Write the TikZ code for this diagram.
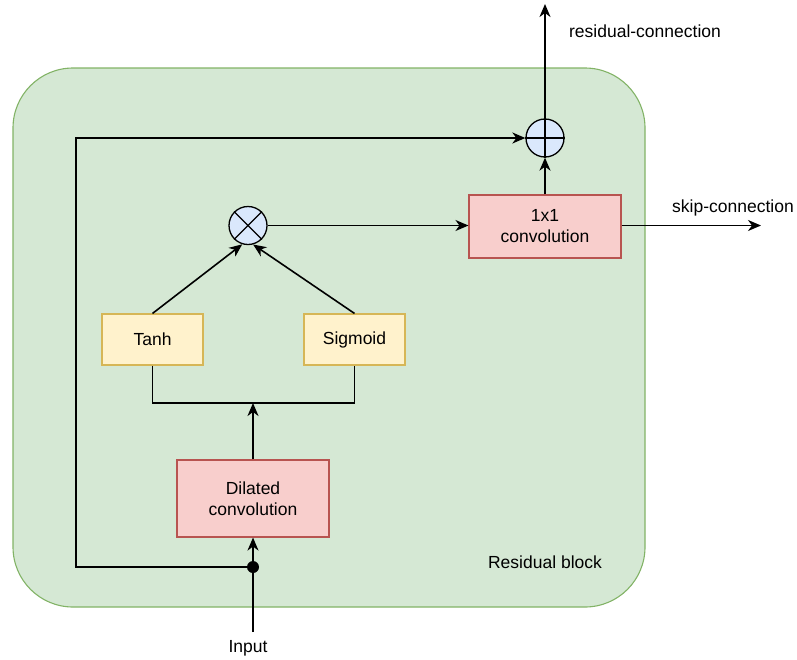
\documentclass[tikz,border=0pt]{standalone}
\usepackage{fontspec}
\setmainfont{Liberation Sans}
\usetikzlibrary{arrows.meta}
\definecolor{blockfill}{HTML}{D5E8D4}
\definecolor{blockline}{HTML}{82B366}
\definecolor{redfill}{HTML}{F8CECC}
\definecolor{redline}{HTML}{B85450}
\definecolor{yelfill}{HTML}{FFF2CC}
\definecolor{yelline}{HTML}{D6B656}
\definecolor{bluefill}{HTML}{DAE8FC}
\tikzset{
  txt/.style={font=\fontsize{17.5}{21}\selectfont},
  conv/.style={txt, draw=redline, fill=redfill, line width=1.1pt, minimum width=152pt, inner sep=0pt, align=center},
  gate/.style={txt, draw=yelline, fill=yelfill, line width=1.1pt, minimum width=101pt, minimum height=51pt, inner sep=0pt},
  op/.style={circle, draw=black, fill=bluefill, line width=1.3pt, minimum size=38pt, inner sep=0pt},
  wire/.style={line width=1.6pt, black},
  arr/.style={wire, -{Stealth[length=13pt, width=11pt, inset=4pt]}},
  lbl/.style={txt, inner sep=0pt},
}
\begin{document}
\begin{tikzpicture}[x=1pt, y=-1pt]
\useasboundingbox (0,0) rectangle (797,659);

% residual block background
\draw[fill=blockfill, draw=blockline, line width=1.1pt, rounded corners=60pt] (13,68) rectangle (645,607);
\node[lbl] (blocklabel) at (545,562) {Residual block};

% nodes
\node[conv, minimum height=77pt] (dil) at (253,498.5) {Dilated\\convolution};
\node[gate] (tanh) at (152.5,339.5) {Tanh};
\node[gate] (sig) at (354.5,339.5) {Sigmoid};
\node[conv, minimum height=63pt] (pw) at (545,226.5) {1x1\\convolution};
\node[op] (mul) at (248,225.5) {};
\node[op] (add) at (545,138) {};
\draw[wire, line width=1.3pt] (mul.north west) -- (mul.south east) (mul.north east) -- (mul.south west);
\draw[wire, line width=1.3pt] (add.north) -- (add.south) (add.west) -- (add.east);

\node[circle, fill=black, minimum size=12pt, inner sep=0pt] (split) at (253,567) {};
\coordinate (inbot) at (253,632);
\coordinate (join) at (253,403);
\coordinate (lowleft) at (76,567);
\coordinate (upleft) at (76,138);
\coordinate (restop) at (545,4);
\coordinate (skipend) at (761,225.5);

\node[lbl] (inputlabel) at (248,648) {Input};
\node[lbl] (reslabel) at (645,31) {residual-connection};
\node[lbl] (skiplabel) at (733,208) {skip-connection};

% connectors
\draw[arr] (inbot) -- (dil.south);
\draw[arr] (dil.north) -- (join);
\draw[wire] (tanh.south) |- (join) -| (sig.south);
\draw[arr] (tanh.north) -- (mul.253);
\draw[arr] (sig.north) -- (mul.285);
\draw[arr] (mul.east) -- (mul.east -| pw.west);
\draw[arr] (pw.north) -- (add.south);
\draw[arr] (split.center) -- (lowleft) -- (upleft) -- (add.west);
\draw[arr] (add.north) -- (restop);
\draw[arr] (mul.east -| pw.east) -- (skipend);
\end{tikzpicture}
\end{document}
